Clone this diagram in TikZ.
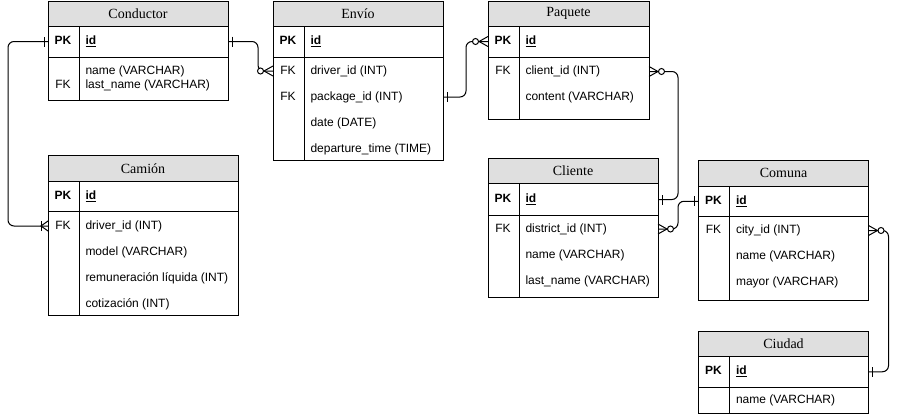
\documentclass[tikz,border=0pt]{standalone}
\usepackage{fontspec}
\setmainfont{Liberation Sans}
\newfontfamily\titlefont{Liberation Serif}
\usetikzlibrary{calc, decorations.markings}

\begin{document}
\begin{tikzpicture}[x=1pt, y=-1pt, line width=1pt,
    tblhead/.style={draw, fill=gray!25, anchor=north west, inner sep=0pt, outer sep=0pt, font=\titlefont\fontsize{14}{16}\selectfont},
    tblcell/.style={draw, anchor=north west, inner sep=0pt, outer sep=0pt},
    keytxt/.style={inner sep=0pt, text height=9pt, text depth=3pt, font=\fontsize{12}{14}\selectfont},
    field/.style={keytxt, anchor=west},
    onestart/.style={postaction={decorate, decoration={markings,
        mark=at position 0 with {\draw[sharp corners] (4,-5) -- (4,5);}}}},
    oneend/.style={postaction={decorate, decoration={markings,
        mark=at position 1 with {\draw[sharp corners] (-4,-5) -- (-4,5);}}}},
    zmanystart/.style={postaction={decorate, decoration={markings,
        mark=at position 0 with {\draw[sharp corners] (0,-5) -- (9,0) -- (0,5);
            \draw[fill=white] (12.5,0) circle[radius=3pt];}}}},
    zmanyend/.style={postaction={decorate, decoration={markings,
        mark=at position 1 with {\draw[sharp corners] (0,-5) -- (-9,0) -- (0,5);
            \draw[fill=white] (-12.5,0) circle[radius=3pt];}}}},
    omanyend/.style={postaction={decorate, decoration={markings,
        mark=at position 1 with {\draw[sharp corners] (0,-5) -- (-7,0) -- (0,5);
            \draw[sharp corners] (-7,-5) -- (-7,5);}}}}]

    \useasboundingbox (0,0) rectangle (898,415);

    % Conductor
    \node[tblhead, minimum width=180, minimum height=25] (cond) at (48,1) {Conductor};
    \node[tblcell, minimum width=180, minimum height=31] (cond-pk) at (cond.south west) {};
    \node[tblcell, minimum width=180, minimum height=43] (cond-body) at (cond-pk.south west) {};
    \draw ($(cond-pk.north west)+(31,0)$) -- ($(cond-body.south west)+(31,0)$);
    \node[keytxt] at ($(cond-pk.west)+(15,0)$) {\textbf{PK}};
    \node[field] at ($(cond-pk.west)+(37,0)$) {\underline{\textbf{id}}};
    \node[field] (cond-f1) at ($(cond-body.north west)+(37,14)$) {name (VARCHAR)};
    \node[field] (cond-f2) at ($(cond-body.north west)+(37,28)$) {last\_name (VARCHAR)};
    \node[keytxt] at ($(cond-f2.west)+(-22,0)$) {FK};

    % Envio
    \node[tblhead, minimum width=170, minimum height=25] (env) at (273,1) {Envío};
    \node[tblcell, minimum width=170, minimum height=31] (env-pk) at (env.south west) {};
    \node[tblcell, minimum width=170, minimum height=103] (env-body) at (env-pk.south west) {};
    \draw ($(env-pk.north west)+(31,0)$) -- ($(env-body.south west)+(31,0)$);
    \node[keytxt] at ($(env-pk.west)+(15,0)$) {\textbf{PK}};
    \node[field] at ($(env-pk.west)+(37,0)$) {\underline{\textbf{id}}};
    \foreach \f [count=\i] in {driver\_id (INT), package\_id (INT), date (DATE), departure\_time (TIME)}
        \node[field] (env-f\i) at ($(env-body.north west)+(37,26*\i-12)$) {\f};
    \node[keytxt] at ($(env-f1.west)+(-22,0)$) {FK};
    \node[keytxt] at ($(env-f2.west)+(-22,0)$) {FK};

    % Paquete
    \node[tblhead, minimum width=161, minimum height=25] (paq) at (488,1) {Paquete};
    \node[tblcell, minimum width=161, minimum height=31] (paq-pk) at (paq.south west) {};
    \node[tblcell, minimum width=161, minimum height=62] (paq-body) at (paq-pk.south west) {};
    \draw ($(paq-pk.north west)+(31,0)$) -- ($(paq-body.south west)+(31,0)$);
    \node[keytxt] at ($(paq-pk.west)+(15,0)$) {\textbf{PK}};
    \node[field] at ($(paq-pk.west)+(37,0)$) {\underline{\textbf{id}}};
    \foreach \f [count=\i] in {client\_id (INT), content (VARCHAR)}
        \node[field] (paq-f\i) at ($(paq-body.north west)+(37,26*\i-11.5)$) {\f};
    \node[keytxt] at ($(paq-f1.west)+(-22,0)$) {FK};

    % Camion
    \node[tblhead, minimum width=190, minimum height=26.5] (cam) at (48,155) {Camión};
    \node[tblcell, minimum width=190, minimum height=29.5] (cam-pk) at (cam.south west) {};
    \node[tblcell, minimum width=190, minimum height=104] (cam-body) at (cam-pk.south west) {};
    \draw ($(cam-pk.north west)+(31,0)$) -- ($(cam-body.south west)+(31,0)$);
    \node[keytxt] at ($(cam-pk.west)+(15,0)$) {\textbf{PK}};
    \node[field] at ($(cam-pk.west)+(37,0)$) {\underline{\textbf{id}}};
    \foreach \f [count=\i] in {driver\_id (INT), model (VARCHAR), remuneración líquida (INT), cotización (INT)}
        \node[field] (cam-f\i) at ($(cam-body.north west)+(37,26*\i-11)$) {\f};
    \node[keytxt] at ($(cam-f1.west)+(-22,0)$) {FK};

    % Cliente
    \node[tblhead, minimum width=170, minimum height=25] (cli) at (488,158.5) {Cliente};
    \node[tblcell, minimum width=170, minimum height=32] (cli-pk) at (cli.south west) {};
    \node[tblcell, minimum width=170, minimum height=82] (cli-body) at (cli-pk.south west) {};
    \draw ($(cli-pk.north west)+(31,0)$) -- ($(cli-body.south west)+(31,0)$);
    \node[keytxt] at ($(cli-pk.west)+(15,0)$) {\textbf{PK}};
    \node[field] at ($(cli-pk.west)+(37,0)$) {\underline{\textbf{id}}};
    \foreach \f [count=\i] in {district\_id (INT), name (VARCHAR), last\_name (VARCHAR)}
        \node[field] (cli-f\i) at ($(cli-body.north west)+(37,26*\i-12.5)$) {\f};
    \node[keytxt] at ($(cli-f1.west)+(-22,0)$) {FK};

    % Comuna
    \node[tblhead, minimum width=170, minimum height=25.5] (com) at (698.5,160.5) {Comuna};
    \node[tblcell, minimum width=170, minimum height=30.5] (com-pk) at (com.south west) {};
    \node[tblcell, minimum width=170, minimum height=83.5] (com-body) at (com-pk.south west) {};
    \draw ($(com-pk.north west)+(31,0)$) -- ($(com-body.south west)+(31,0)$);
    \node[keytxt] at ($(com-pk.west)+(15,0)$) {\textbf{PK}};
    \node[field] at ($(com-pk.west)+(37,0)$) {\underline{\textbf{id}}};
    \foreach \f [count=\i] in {city\_id (INT), name (VARCHAR), mayor (VARCHAR)}
        \node[field] (com-f\i) at ($(com-body.north west)+(37,26*\i-12)$) {\f};
    \node[keytxt] at ($(com-f1.west)+(-22,0)$) {FK};

    % Ciudad
    \node[tblhead, minimum width=170, minimum height=25.5] (ciu) at (698.5,331) {Ciudad};
    \node[tblcell, minimum width=170, minimum height=30.5] (ciu-pk) at (ciu.south west) {};
    \node[tblcell, minimum width=170, minimum height=26] (ciu-body) at (ciu-pk.south west) {};
    \draw ($(ciu-pk.north west)+(31,0)$) -- ($(ciu-body.south west)+(31,0)$);
    \node[keytxt] at ($(ciu-pk.west)+(15,0)$) {\textbf{PK}};
    \node[field] at ($(ciu-pk.west)+(37,0)$) {\underline{\textbf{id}}};
    \node[field] (ciu-f1) at ($(ciu-body.north west)+(37,13)$) {name (VARCHAR)};

    % Relations
    \draw[onestart, omanyend, rounded corners=6] (cond-pk.west) -- ++(-40,0) |- (cam-f1 -| cam-body.west);
    \draw[onestart, zmanyend, rounded corners=6] (cond-pk.east) -- ++(30,0) |- (env-f1 -| env-body.west);
    \draw[onestart, zmanyend, rounded corners=6] (env-f2 -| env-body.east) -- ++(23,0) |- (paq-pk.west);
    \draw[zmanystart, oneend, rounded corners=6] (paq-f1 -| paq-body.east) -- ++(29,0) |- (cli-pk.east);
    \draw[zmanystart, oneend, rounded corners=6] (cli-f1 -| cli-body.east) -- ++(20,0) |- (com-pk.west);
    \draw[zmanystart, oneend, rounded corners=6] (com-f1 -| com-body.east) -- ++(20,0) |- (ciu-pk.east);
\end{tikzpicture}
\end{document}
